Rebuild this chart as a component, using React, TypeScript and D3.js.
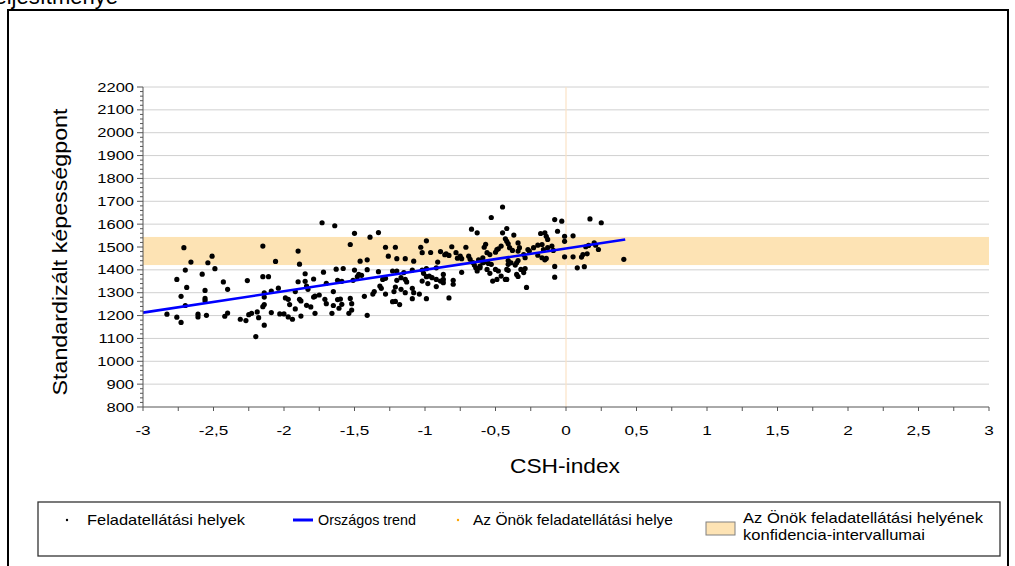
import React from "react";
import * as d3 from "d3";

// CSH-index, standardizált képességpont
const schools: [number, number][] = [
  [-2.71, 1497], [-2.15, 1504], [-2.66, 1434], [-2.51, 1460], [-2.54, 1431], [-2.7, 1399], [-2.49, 1405],
  [-2.58, 1381], [-2.76, 1358], [-2.69, 1323], [-2.56, 1310], [-2.43, 1347], [-2.4, 1315], [-2.26, 1353],
  [-2.15, 1370], [-2.11, 1370], [-2.73, 1284], [-2.56, 1275], [-2.56, 1265], [-2.7, 1244], [-2.83, 1206],
  [-2.76, 1193], [-2.73, 1170], [-2.61, 1206], [-2.61, 1194], [-2.55, 1201], [-2.4, 1211], [-2.42, 1197],
  [-2.31, 1184], [-2.27, 1178], [-2.25, 1204], [-2.23, 1210], [-2.19, 1216], [-2.18, 1191], [-2.14, 1158],
  [-2.2, 1108], [-2.15, 1239], [-2.14, 1248], [-2.14, 1281], [-2.14, 1299],
  [-1.73, 1606], [-1.64, 1593], [-1.5, 1560], [-1.33, 1563], [-1.39, 1543], [-1.53, 1511], [-1.28, 1499],
  [-1.9, 1482], [-1.26, 1460], [-2.06, 1437], [-1.89, 1425], [-1.46, 1438], [-1.41, 1444], [-1.63, 1403],
  [-1.58, 1406], [-1.5, 1399], [-1.41, 1401], [-1.33, 1392], [-1.85, 1383], [-1.72, 1390], [-1.47, 1380],
  [-1.45, 1376], [-1.48, 1370], [-1.23, 1395], [-1.9, 1348], [-1.85, 1350], [-1.79, 1360], [-1.7, 1341],
  [-1.62, 1354], [-1.59, 1350], [-1.51, 1354], [-1.3, 1358], [-1.28, 1363], [-1.84, 1329], [-1.83, 1315],
  [-1.32, 1329], [-1.31, 1319], [-1.65, 1305], [-2.09, 1307], [-2.04, 1320], [-1.99, 1277], [-1.97, 1271],
  [-1.92, 1305], [-1.89, 1271], [-1.88, 1264], [-1.79, 1281], [-1.78, 1285], [-1.75, 1290], [-1.71, 1271],
  [-1.7, 1252], [-1.62, 1270], [-1.6, 1272], [-1.53, 1275], [-1.52, 1252], [-1.43, 1284], [-1.37, 1294],
  [-1.36, 1305], [-1.28, 1294], [-2.09, 1213], [-2.03, 1207], [-2.0, 1207], [-1.97, 1194], [-1.94, 1184],
  [-1.96, 1248], [-1.92, 1229], [-1.88, 1198], [-1.84, 1245], [-1.81, 1238], [-1.78, 1210], [-1.66, 1210],
  [-1.65, 1244], [-1.61, 1232], [-1.59, 1249], [-1.54, 1210], [-1.52, 1224], [-1.41, 1201], [-1.23, 1261],
  [-0.45, 1675], [-0.53, 1629], [-0.67, 1578], [-0.63, 1562], [-0.45, 1562], [-0.42, 1581], [-0.99, 1527],
  [-1.03, 1499], [-1.21, 1499], [-0.96, 1476], [-1.02, 1475], [-0.89, 1480], [-0.85, 1470], [-0.83, 1463],
  [-0.81, 1501], [-0.71, 1499], [-0.57, 1512], [-0.58, 1499], [-0.46, 1504], [-0.48, 1492], [-0.42, 1525],
  [-0.43, 1536], [-1.2, 1449], [-1.14, 1449], [-1.08, 1438], [-0.91, 1434], [-0.86, 1466], [-0.78, 1475],
  [-0.75, 1460], [-0.74, 1449], [-0.77, 1451], [-0.69, 1460], [-0.68, 1446], [-0.66, 1432], [-0.62, 1444],
  [-0.59, 1453], [-0.56, 1475], [-0.54, 1467], [-0.5, 1477], [-0.49, 1489], [-0.65, 1421], [-0.61, 1416],
  [-0.59, 1431], [-0.74, 1389], [-0.92, 1409], [-0.99, 1405], [-1.02, 1399], [-1.09, 1399], [-1.15, 1388],
  [-1.2, 1395], [-1.2, 1354], [-1.17, 1366], [-1.14, 1358], [-1.13, 1347], [-1.01, 1385], [-0.99, 1370],
  [-0.97, 1373], [-0.95, 1366], [-0.92, 1358], [-0.89, 1351], [-0.87, 1380], [-0.87, 1358], [-0.87, 1344],
  [-0.8, 1354], [-0.8, 1337], [-1.02, 1351], [-0.98, 1340], [-0.92, 1327], [-1.21, 1325], [-1.22, 1305],
  [-1.17, 1315], [-1.14, 1300], [-1.09, 1319], [-1.08, 1300], [-1.04, 1294], [-0.99, 1274], [-1.09, 1274],
  [-1.21, 1262], [-1.18, 1248], [-0.83, 1277], [-0.64, 1409], [-0.63, 1395], [-0.61, 1409], [-0.56, 1402],
  [-0.54, 1385], [-0.52, 1351], [-0.49, 1358], [-0.46, 1373], [-0.43, 1358], [-0.53, 1424], [-0.5, 1402],
  [-0.48, 1395], [-0.42, 1402], [-0.41, 1424], [-0.58, 1434], [-0.55, 1428],
  [-0.08, 1620], [-0.03, 1613], [0.17, 1623], [0.25, 1606], [-0.06, 1569], [-0.37, 1552], [-0.18, 1559],
  [-0.15, 1562], [-0.14, 1547], [-0.13, 1533], [-0.01, 1547], [0.05, 1549], [-0.01, 1525], [0.2, 1518],
  [0.21, 1508], [0.14, 1501], [0.16, 1507], [0.23, 1489], [-0.34, 1518], [-0.23, 1497], [-0.2, 1508],
  [-0.17, 1511], [-0.26, 1482], [-0.27, 1489], [-0.33, 1497], [-0.34, 1482], [-0.13, 1497], [-0.1, 1504],
  [-0.09, 1485], [-0.16, 1489], [-0.41, 1514], [-0.4, 1497], [-0.38, 1485], [-0.01, 1457], [0.05, 1457],
  [0.11, 1456], [0.12, 1467], [0.15, 1470], [-0.2, 1464], [-0.17, 1453], [-0.15, 1444], [-0.14, 1450],
  [-0.3, 1467], [-0.29, 1453], [-0.34, 1441], [-0.35, 1431], [-0.36, 1421], [-0.41, 1441], [-0.39, 1431],
  [0.41, 1446], [-0.08, 1415], [0.08, 1409], [0.13, 1414], [-0.32, 1402], [-0.3, 1388], [-0.29, 1406],
  [-0.35, 1380], [-0.34, 1371], [-0.41, 1398], [-0.42, 1358], [-0.08, 1368], [-0.28, 1323],
];

// országos trend (két végpont)
const trend: [number, number][] = [[-3, 1213], [0.42, 1533]];
// konfidencia-intervallum
const band = [1421, 1544];

const xTicks = [-3, -2.5, -2, -1.5, -1, -0.5, 0, 0.5, 1, 1.5, 2, 2.5, 3];
const yTicks = d3.range(800, 2201, 100);

const legendItems = [
  "Feladatellátási helyek",
  "Országos trend",
  "Az Önök feladatellátási helye",
  "Az Önök feladatellátási helyének",
  "konfidencia-intervallumai",
];

const font = "'Liberation Sans', Arial, sans-serif";
const fmt = (v: number) => `${v}`.replace(".", ",");

export default function App() {
  const left = 143, right = 989, top = 87, bottom = 407;
  const x = d3.scaleLinear().domain([-3, 3]).range([left, right]);
  const y = d3.scaleLinear().domain([800, 2200]).range([bottom, top]);
  const line = d3.line<[number, number]>().x((d) => x(d[0])).y((d) => y(d[1]));

  const yMinor = d3.range(800, 2201, 20);
  const xMinor = d3.range(-3, 3.001, 0.25);

  return (
    <div style={{ position: "absolute", left: 0, top: 0 }}>
      <svg width={1015} height={566} style={{ display: "block", background: "#fff" }} fontFamily={font}>
        <text x={118} y={4} textAnchor="end" fontSize={22}>teljesítménye</text>
        <path d="M8,566 V10 H1008 V566" fill="none" stroke="#000" strokeWidth={2} />

        {yTicks.slice(1).map((t) => (
          <line key={t} x1={left} x2={right} y1={y(t)} y2={y(t)} stroke="#d0d0d0" strokeWidth={1} />
        ))}
        <rect x={left} width={right - left} y={y(band[1])} height={y(band[0]) - y(band[1])} fill="#fde3b4" />
        <line x1={x(0)} x2={x(0)} y1={top} y2={bottom} stroke="#fbe3c6" strokeWidth={1.2} />

        {schools.map((d, i) => (
          <circle key={i} cx={x(d[0])} cy={y(d[1])} r={2.6} fill="#000" />
        ))}
        <path d={line(trend) || ""} fill="none" stroke="#0000ff" strokeWidth={2.6} />

        {/* y tengely */}
        <line x1={left} x2={left} y1={top} y2={bottom} stroke="#555" />
        {yMinor.map((t) => (
          <line key={t} x1={left - (t % 100 === 0 ? 6 : 3)} x2={left} y1={y(t)} y2={y(t)} stroke="#555" />
        ))}
        {yTicks.map((t) => (
          <text key={t} transform={`translate(134,${y(t)}) scale(1.27,1)`} textAnchor="end" dy="0.35em" fontSize={13}>
            {t}
          </text>
        ))}
        <text
          transform={`translate(67,${(top + bottom) / 2 + 5}) rotate(-90)`}
          textAnchor="middle"
          fontSize={20}
          textLength={287}
          lengthAdjust="spacingAndGlyphs"
        >
          Standardizált képességpont
        </text>

        {/* x tengely */}
        <line x1={left} x2={right} y1={bottom} y2={bottom} stroke="#555" />
        {xMinor.map((t) => (
          <line key={t} x1={x(t)} x2={x(t)} y1={bottom} y2={bottom + 4} stroke="#555" />
        ))}
        {xTicks.map((t) => (
          <text key={t} transform={`translate(${x(t)},430) scale(1.27,1)`} textAnchor="middle" dy="0.35em" fontSize={13.5}>
            {fmt(t)}
          </text>
        ))}
        <text x={565} y={473} textAnchor="middle" fontSize={21} textLength={110} lengthAdjust="spacingAndGlyphs">
          CSH-index
        </text>

        {/* jelmagyarázat */}
        <rect x={38} y={502} width={962} height={54} fill="#fff" stroke="#333" strokeWidth={1.3} />
        <circle cx={67} cy={520} r={1.2} fill="#000" />
        <text x={87} y={520} dy="0.35em" fontSize={15} textLength={158} lengthAdjust="spacingAndGlyphs">
          {legendItems[0]}
        </text>
        <line x1={293} x2={313} y1={520} y2={520} stroke="#0000ff" strokeWidth={3} />
        <text x={318} y={520} dy="0.35em" fontSize={15} textLength={98} lengthAdjust="spacingAndGlyphs">
          {legendItems[1]}
        </text>
        <circle cx={458} cy={520} r={1.2} fill="#ffa500" />
        <text x={473} y={520} dy="0.35em" fontSize={15} textLength={200} lengthAdjust="spacingAndGlyphs">
          {legendItems[2]}
        </text>
        <rect x={706} y={522} width={29} height={13} fill="#fde3b4" stroke="#808080" />
        <text x={743} y={518} dy="0.35em" fontSize={15} textLength={240} lengthAdjust="spacingAndGlyphs">
          {legendItems[3]}
        </text>
        <text x={743} y={535} dy="0.35em" fontSize={15} textLength={182} lengthAdjust="spacingAndGlyphs">
          {legendItems[4]}
        </text>
      </svg>
    </div>
  );
}
